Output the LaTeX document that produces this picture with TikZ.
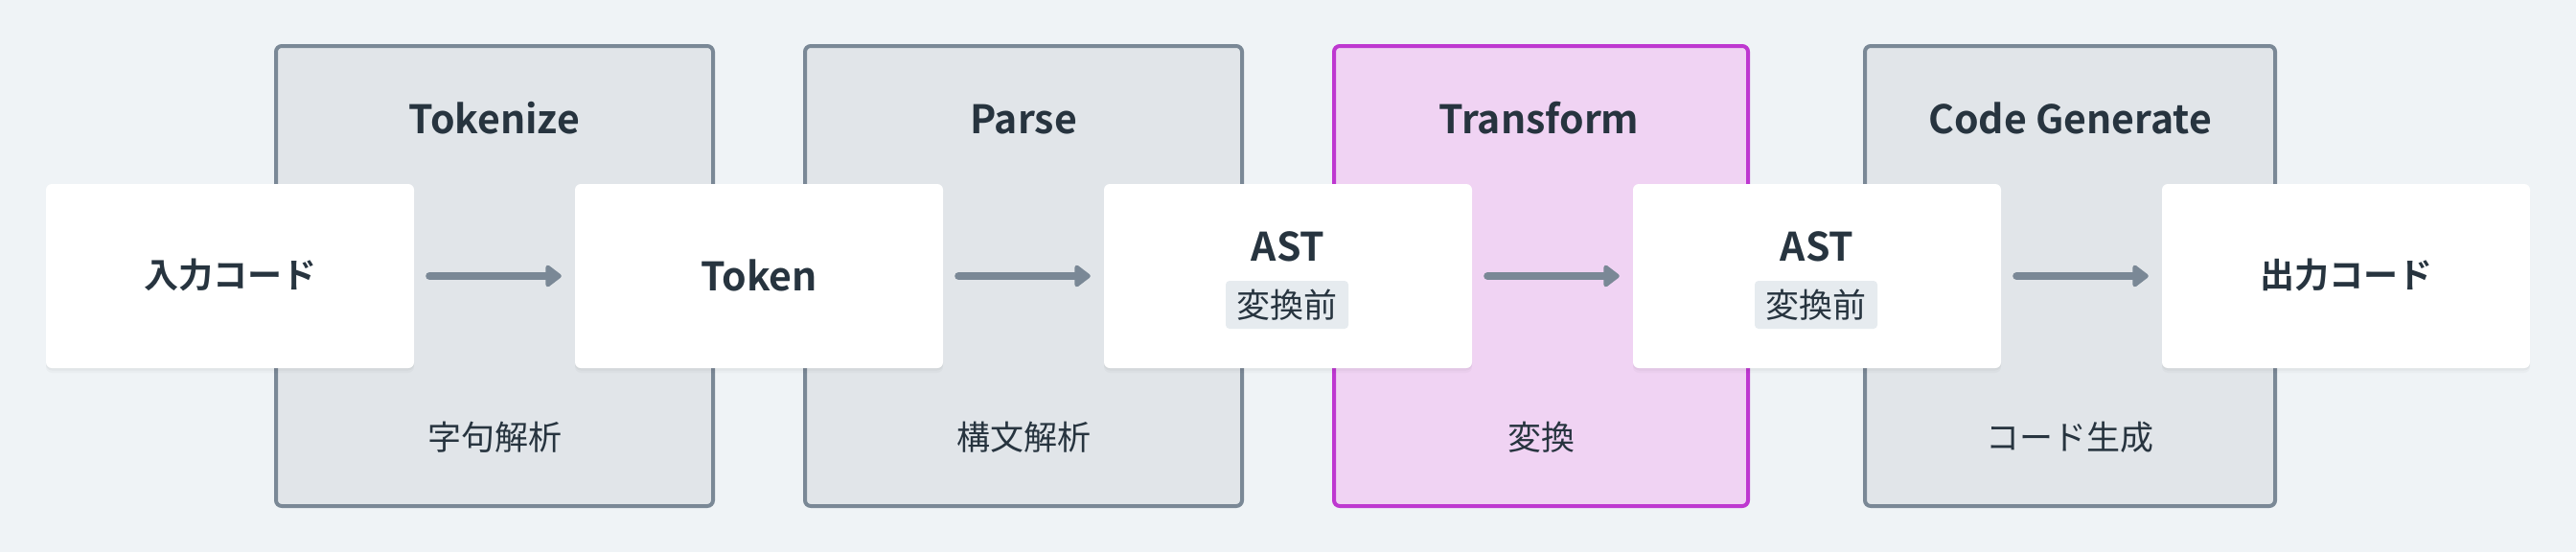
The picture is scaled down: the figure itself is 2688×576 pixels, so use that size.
\documentclass[tikz,border=0pt]{standalone}
\usepackage{fontspec}
\setmainfont{Noto Sans CJK JP}[BoldFont={Noto Sans CJK JP Bold}]
\usetikzlibrary{arrows.meta}
\definecolor{bg}{HTML}{EFF3F6}
\definecolor{ink}{HTML}{27343F}
\definecolor{slate}{HTML}{7A8896}
\definecolor{stagefill}{HTML}{E1E5E9}
\definecolor{magstroke}{HTML}{BE38D0}
\definecolor{magfill}{HTML}{F0D3F3}
\definecolor{tagfill}{HTML}{E6EBEF}
\tikzset{
  stagebox/.style={draw=slate, fill=stagefill, line width=4pt, rounded corners=6pt, minimum height=480pt, inner sep=0pt},
  hlstage/.style={stagebox, draw=magstroke, fill=magfill},
  card/.style={fill=white, rounded corners=6pt, minimum width=384pt, minimum height=192pt, inner sep=0pt,
    preaction={fill=black, fill opacity=0.025, transform canvas={yshift=-5pt}},
    preaction={fill=black, fill opacity=0.03, transform canvas={yshift=-2.5pt}}},
  titletext/.style={text=ink, font=\bfseries\fontsize{41}{48}\selectfont, inner sep=0pt},
  steptext/.style={text=ink, font=\fontsize{35}{42}\selectfont, inner sep=0pt},
  cjkbold/.style={text=ink, font=\bfseries\fontsize{36}{43}\selectfont, inner sep=0pt},
  tagbox/.style={fill=tagfill, rounded corners=4pt, minimum width=128pt, minimum height=50pt, inner sep=0pt, text=ink, font=\fontsize{35}{42}\selectfont},
  flow/.style={draw=slate, line width=8pt, line cap=round, -{Triangle[length=18pt,width=26pt,round]}, shorten <=16pt, shorten >=14pt}
}
\begin{document}
\begin{tikzpicture}[x=1pt,y=-1pt]
\fill[bg] (0,0) rectangle (2688,576);
\useasboundingbox (0,0) rectangle (2688,576);

% stage boxes
\node[stagebox, minimum width=456pt] (s1) at (516,288) {};
\node[stagebox, minimum width=456pt] (s2) at (1068,288) {};
\node[hlstage, minimum width=432pt] (s3) at (1608,288) {};
\node[stagebox, minimum width=428pt] (s4) at (2160,288) {};

% stage titles
\node[titletext, anchor=base] (t1) at (516,139) {Tokenize};
\node[titletext, anchor=base] (t2) at (1068,139) {Parse};
\node[titletext, anchor=base] (t3) at (1606,139) {Transform};
\node[titletext, anchor=base] (t4) at (2160,139) {Code Generate};

% stage descriptions
\node[steptext, anchor=base] (d1) at (516,469) {字句解析};
\node[steptext, anchor=base] (d2) at (1068,469) {構文解析};
\node[steptext, anchor=base] (d3) at (1608,469) {変換};
\node[steptext, anchor=base] (d4) at (2160,469) {コード生成};

% cards
\node[card] (n1) at (240,288) {};
\node[card] (n2) at (792,288) {};
\node[card] (n3) at (1344,288) {};
\node[card] (n4) at (1896,288) {};
\node[card] (n5) at (2448,288) {};

\node[cjkbold, anchor=base] (l1) at (240,300.5) {入力コード};
\node[titletext, anchor=base] (l2) at (792,303) {Token};
\node[titletext, anchor=base] (l3) at (1344,272) {AST};
\node[tagbox] (g3) at (1343,318) {変換前};
\node[titletext, anchor=base] (l4) at (1896,272) {AST};
\node[tagbox] (g4) at (1895,318) {変換前};
\node[cjkbold, anchor=base] (l5) at (2448,300.5) {出力コード};

% arrows
\draw[flow] (n1) -- (n2);
\draw[flow] (n2) -- (n3);
\draw[flow] (n3) -- (n4);
\draw[flow] (n4) -- (n5);
\end{tikzpicture}
\end{document}
